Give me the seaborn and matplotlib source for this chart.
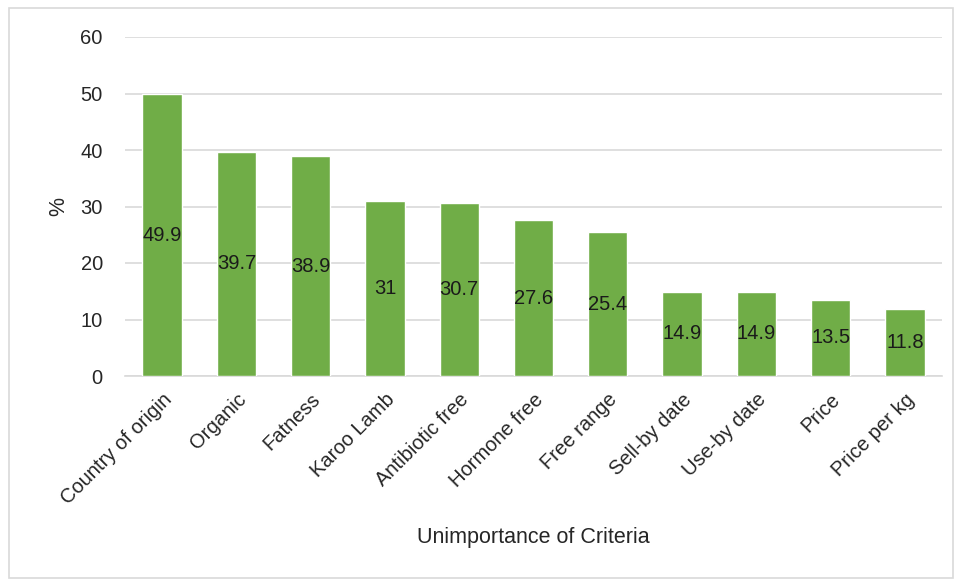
import matplotlib
matplotlib.use("Agg")
import matplotlib.pyplot as plt
from matplotlib.patches import Rectangle
import seaborn as sns
import pandas as pd

criteria = ["Country of origin", "Organic", "Fatness", "Karoo Lamb", "Antibiotic free",
            "Hormone free", "Free range", "Sell-by date", "Use-by date", "Price", "Price per kg"]
values = [49.9, 39.7, 38.9, 31, 30.7, 27.6, 25.4, 14.9, 14.9, 13.5, 11.8]
value_labels = ["49.9", "39.7", "38.9", "31", "30.7", "27.6", "25.4", "14.9", "14.9", "13.5", "11.8"]
y_ticks = [0, 10, 20, 30, 40, 50, 60]

sns.set_style("white")
plt.rcParams["font.family"] = ["Liberation Sans Narrow", "Liberation Sans", "DejaVu Sans"]

df = pd.DataFrame({"criteria": criteria, "value": values})

fig = plt.figure(figsize=(9.57, 5.8), dpi=100)
ax = fig.add_axes([125 / 957, 1 - 376 / 580, (942 - 125) / 957, (376 - 37) / 580])

green = "#70AD47"
sns.barplot(data=df, x="criteria", y="value", color=green, width=0.53,
            saturation=1, ax=ax, zorder=3)

for i, (v, lab) in enumerate(zip(values, value_labels)):
    ax.text(i, v / 2, lab, ha="center", va="center", fontsize=14.5, color="#1a1a1a", zorder=4)

ax.set_ylim(0, 60)
ax.set_yticks(y_ticks)
ax.set_xlim(-0.5, len(criteria) - 0.5)
ax.yaxis.grid(True, color="#D9D9D9", linewidth=1.2, zorder=0)
ax.set_axisbelow(True)
for side in ["left", "right", "top"]:
    ax.spines[side].set_visible(False)
ax.spines["bottom"].set_color("#D9D9D9")
ax.spines["bottom"].set_linewidth(1.2)
ax.tick_params(axis="both", length=0, labelsize=14.5, colors="#262626")
ax.tick_params(axis="y", pad=16)
ax.tick_params(axis="x", pad=10)
plt.setp(ax.get_xticklabels(), rotation=45, ha="right", rotation_mode="anchor")

ax.set_xlabel("Unimportance of Criteria", fontsize=15.5, color="#262626", labelpad=14)
ax.set_ylabel("%", fontsize=15.5, color="#262626", labelpad=8)

fig.patches.append(Rectangle((9 / 957, 2 / 580), (953 - 9) / 957, (572 - 2) / 580,
                             transform=fig.transFigure, fill=False,
                             edgecolor="#D9D9D9", linewidth=1.2))

fig.savefig("out.png", dpi=100)
